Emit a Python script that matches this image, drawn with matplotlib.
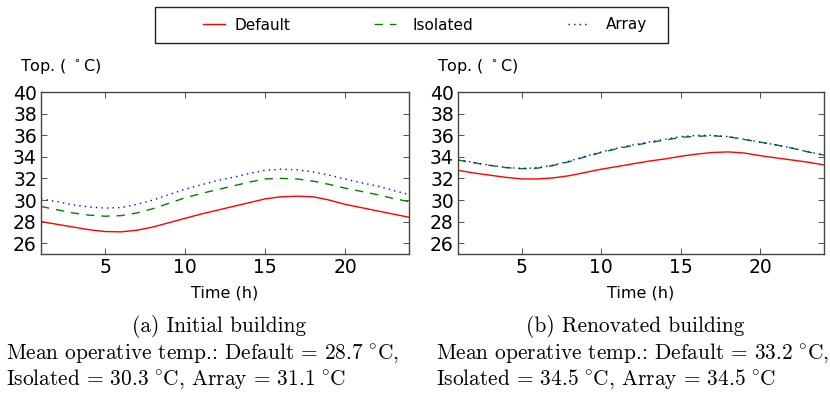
import matplotlib
matplotlib.use("Agg")
import matplotlib.pyplot as plt
from matplotlib.patches import Rectangle

hours = list(range(1, 25))

default_a = [28.0, 27.75, 27.5, 27.25, 27.08, 27.05, 27.2, 27.5, 27.9, 28.3, 28.7, 29.05,
             29.4, 29.75, 30.1, 30.3, 30.35, 30.3, 30.0, 29.6, 29.3, 29.0, 28.7, 28.4]
isolated_a = [29.4, 29.1, 28.8, 28.6, 28.5, 28.55, 28.8, 29.2, 29.7, 30.2, 30.6, 30.95,
              31.3, 31.65, 31.95, 32.0, 31.95, 31.75, 31.45, 31.1, 30.8, 30.5, 30.15, 29.85]
array_a = [30.1, 29.85, 29.55, 29.35, 29.25, 29.3, 29.6, 30.0, 30.5, 31.0, 31.4, 31.8,
           32.1, 32.45, 32.75, 32.85, 32.8, 32.6, 32.3, 31.95, 31.6, 31.3, 30.9, 30.5]

default_b = [32.75, 32.5, 32.3, 32.1, 31.95, 31.95, 32.05, 32.25, 32.55, 32.85, 33.1, 33.35,
             33.6, 33.8, 34.05, 34.25, 34.4, 34.45, 34.35, 34.1, 33.9, 33.7, 33.5, 33.25]
isolated_b = [33.7, 33.45, 33.2, 33.0, 32.9, 32.95, 33.2, 33.55, 34.0, 34.4, 34.75, 35.05,
              35.3, 35.55, 35.8, 35.9, 35.95, 35.85, 35.6, 35.35, 35.1, 34.8, 34.45, 34.15]
array_b = [33.72, 33.47, 33.22, 33.02, 32.92, 32.98, 33.24, 33.6, 34.05, 34.45, 34.8, 35.1,
           35.37, 35.62, 35.87, 35.98, 35.98, 35.87, 35.62, 35.37, 35.1, 34.8, 34.47, 34.17]

series_names = ["Default", "Isolated", "Array"]
panel_titles = ["(a) Initial building", "(b) Renovated building"]
mean_default = ["28.7", "33.2"]
mean_isolated = ["30.3", "34.5"]
mean_array = ["31.1", "34.5"]
yticks = [26, 28, 30, 32, 34, 36, 38, 40]
xticks = [5, 10, 15, 20]

W, H = 830, 396
fig = plt.figure(figsize=(W / 100, H / 100), dpi=100)

def fx(px):
    return px / W

def fy(py):
    return 1 - py / H

panels = [
    (41, 409, (default_a, isolated_a, array_a)),
    (458, 824, (default_b, isolated_b, array_b)),
]
top, bottom = 92, 254
styles = [dict(color="#ff0000", ls="-", lw=1.0),
          dict(color="#008000", ls=(0, (6, 5)), lw=1.0),
          dict(color="#0000ff", ls=(0, (1, 3)), lw=1.0)]

deg = r"$\;^{\circ}\mathrm{C}$"
cap_fs = 15.4
handles = None
for i, (l, r, data) in enumerate(panels):
    ax = fig.add_axes([fx(l), fy(bottom), (r - l) / W, (bottom - top) / H])
    hs = []
    for name, vals, st in zip(series_names, data, styles):
        h, = ax.plot(hours, vals, label=name, **st)
        hs.append(h)
    handles = hs
    ax.set_xlim(1, 24)
    ax.set_ylim(25, 40)
    ax.set_yticks(yticks)
    ax.set_xticks(xticks)
    ax.tick_params(direction="in", top=True, right=True, length=4, width=0.6,
                   color="#333333", labelsize=13.5, pad=3)
    for s in ax.spines.values():
        s.set_color("#444444")
        s.set_linewidth(1.0)
    ax.set_xlabel("Time (h)", fontsize=11.5, labelpad=6)
    cx = (l + r) / 2
    fig.text(fx(l - 21), fy(67), r"Top. ( $^\circ$C)", fontsize=11.5,
             ha="left", va="center", math_fontfamily="dejavusans")
    x0 = 6 if i == 0 else 436
    fig.text(fx(cx - 6), fy(327), panel_titles[i], fontsize=cap_fs, family="cmr10",
             ha="center", va="center")
    fig.text(fx(x0), fy(353),
             "Mean operative temp.: Default = " + mean_default[i] + deg + ",",
             fontsize=cap_fs, family="cmr10", ha="left", va="center", math_fontfamily="cm")
    fig.text(fx(x0), fy(379),
             "Isolated = " + mean_isolated[i] + deg + ", Array = " + mean_array[i] + deg,
             fontsize=cap_fs, family="cmr10", ha="left", va="center", math_fontfamily="cm")

fig.patches.append(Rectangle((fx(155), fy(43)), (668 - 155) / W, 36 / H,
                             transform=fig.transFigure, fill=False,
                             edgecolor="#222222", lw=1.0))

leg_x = [203, 374, 568]
leg_pad = [0.6, 1.05, 1.05]
for h, x, p in zip(handles, leg_x, leg_pad):
    fig.legend(handles=[h], loc="center left", bbox_to_anchor=(fx(x), fy(25)),
               frameon=False, fontsize=11, handlelength=1.45, handletextpad=p,
               borderpad=0, borderaxespad=0)

fig.savefig("out.png", dpi=100)
